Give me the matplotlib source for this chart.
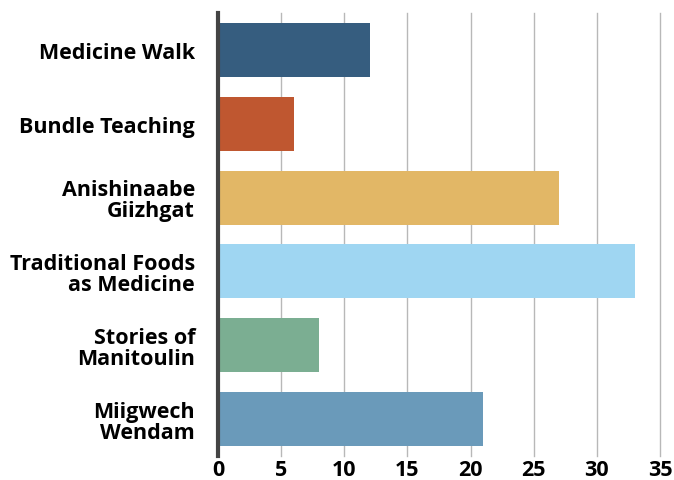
import matplotlib.pyplot as plt

# data
categories = ["Medicine Walk", "Bundle Teaching", "Anishinaabe\nGiizhgat",
              "Traditional Foods\nas Medicine", "Stories of\nManitoulin", "Miigwech\nWendam"]
values = [12, 6, 27, 33, 8, 21]
colors = ["#365d7f", "#bf5730", "#e2b766", "#9fd6f2", "#7bae92", "#6a9aba"]
xticks = [0, 5, 10, 15, 20, 25, 30, 35]

plt.rcParams['font.family'] = ['Open Sans', 'DejaVu Sans']
plt.rcParams['font.weight'] = 'bold'

fig = plt.figure(figsize=(6.74, 4.81), dpi=100)
ax = fig.add_axes([218 / 674, 1 - 457 / 481, 442 / 674, 443 / 481])

ypos = list(range(len(categories)))
ax.barh(ypos, values, height=0.73, color=colors, zorder=3)

ax.set_xlim(0, 35)
ax.set_ylim(5.5, -0.5)
ax.set_xticks(xticks)
ax.set_yticks(ypos)
ax.set_yticklabels(categories, fontsize=15.5, fontweight='bold', linespacing=1.0)
ax.tick_params(axis='x', labelsize=15.5, length=0, pad=2)
ax.tick_params(axis='y', length=0, pad=16.5)
for lbl in ax.get_xticklabels():
    lbl.set_fontweight('bold')

ax.grid(axis='x', color='#b8b8b8', linewidth=1, zorder=0)
for gl in ax.get_xgridlines():
    gl.set_clip_on(False)
for s in ['top', 'right', 'bottom']:
    ax.spines[s].set_visible(False)
ax.spines['left'].set_color('#444444')
ax.spines['left'].set_linewidth(3)
ax.spines['left'].set_zorder(4)

fig.savefig("out.png", dpi=100)
